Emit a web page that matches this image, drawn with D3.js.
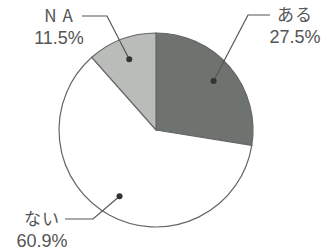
<!DOCTYPE html>
<html>
<head>
<meta charset="utf-8">
<script src="https://cdn.jsdelivr.net/npm/d3@7"></script>
<style>
  body { margin: 0; background: #fff; }
  text { fill: #555; }
  .cat { font-family: "Noto Sans CJK JP", "Noto Sans", sans-serif; }
  .pct { font-family: "Liberation Sans", Arial, sans-serif; }
</style>
</head>
<body>
<div id="chart"></div>
<script>
// data
var categories = ["ある", "ない", "N A"];
var values = [27.5, 60.9, 11.5];
var colors = ["#6f736f", "#ffffff", "#b9bcb8"];

var width = 326, height = 252;
var cx = 156, cy = 130, radius = 97;

var svg = d3.select("#chart").append("svg")
  .attr("width", width)
  .attr("height", height);

var g = svg.append("g")
  .attr("transform", "translate(" + cx + "," + cy + ")");

var pie = d3.pie().sort(null).value(function (d) { return d; });
var arcs = pie(values);

var arc = d3.arc().innerRadius(0).outerRadius(radius);
var dotArc = d3.arc().innerRadius(radius * 0.78).outerRadius(radius * 0.78);

g.selectAll("path.slice")
  .data(arcs)
  .enter().append("path")
  .attr("class", "slice")
  .attr("d", arc)
  .style("fill", function (d, i) { return colors[i]; })
  .style("stroke", "#666")
  .style("stroke-width", 1.2);

// leader lines: elbow and end (relative to center), label position
var leaders = [
  { elbow: [92, -115], end: [114, -115], lx: 139 },
  { elbow: [-63, 89], end: [-91, 89], lx: -114 },
  { elbow: [-49, -114], end: [-74, -114], lx: -97 }
];

arcs.forEach(function (d, i) {
  var c = dotArc.centroid(d);
  var L = leaders[i];
  g.append("polyline")
    .attr("points", [c, L.elbow, L.end].map(function (p) { return p.join(","); }).join(" "))
    .style("fill", "none")
    .style("stroke", "#555")
    .style("stroke-width", 1.2);
  g.append("circle")
    .attr("cx", c[0]).attr("cy", c[1]).attr("r", 3)
    .style("fill", "#333");
  g.append("text")
    .attr("class", "cat")
    .attr("x", L.lx)
    .attr("y", L.end[1] + 6)
    .attr("text-anchor", "middle")
    .style("font-size", "17px")
    .style("letter-spacing", "1px")
    .text(categories[i]);
  g.append("text")
    .attr("class", "pct")
    .attr("x", L.lx)
    .attr("y", L.end[1] + 28)
    .attr("text-anchor", "middle")
    .style("font-size", "18px")
    .text(d3.format(".1f")(values[i]) + "%");
});
</script>
</body>
</html>
